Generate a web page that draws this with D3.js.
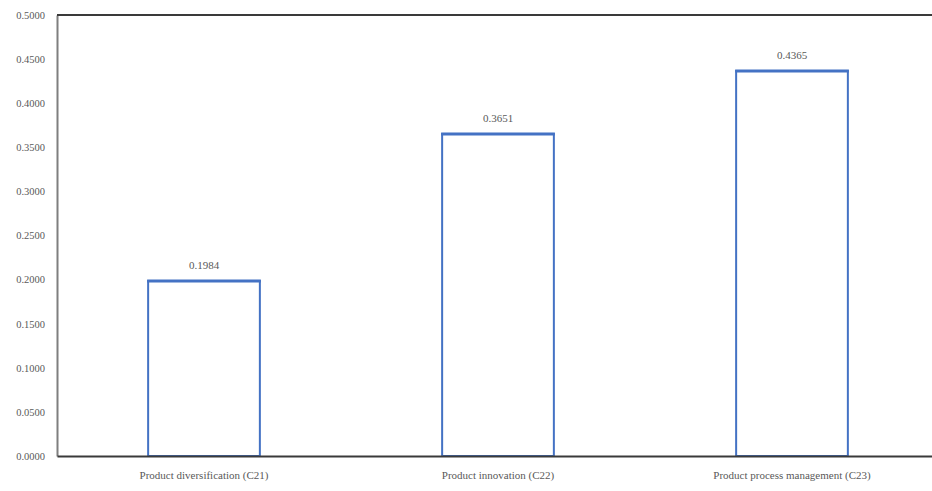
<!DOCTYPE html>
<html>
<head>
<meta charset="utf-8">
<script src="https://cdn.jsdelivr.net/npm/d3@7"></script>
<style>
  html, body { margin: 0; padding: 0; background: #fff; }
  svg { display: block; }
  text { font-family: "Liberation Serif", "Times New Roman", serif; fill: #595959; }
</style>
</head>
<body>
<svg id="chart" width="932" height="491"></svg>
<script>
// Weights of the product sub-criteria
const categories = ["Product diversification (C21)", "Product innovation (C22)", "Product process management (C23)"];
const values = [0.1984, 0.3651, 0.4365];
const yTicks = [0, 0.05, 0.10, 0.15, 0.20, 0.25, 0.30, 0.35, 0.40, 0.45, 0.50];

const svg = d3.select("#chart");
const margin = { left: 57, top: 15, bottom: 35 };
const plotW = 882;
const plotH = 491 - margin.top - margin.bottom;

const x = d3.scaleBand().domain(categories).range([0, plotW]).paddingInner(0.62).paddingOuter(0.31);
const y = d3.scaleLinear().domain([0, 0.5]).range([plotH, 0]);

const g = svg.append("g").attr("transform", `translate(${margin.left},${margin.top})`);

// bars: white fill with blue outline
g.selectAll("rect.bar").data(values).join("rect")
  .attr("class", "bar")
  .attr("x", (d, i) => x(categories[i]))
  .attr("y", d => y(d))
  .attr("width", x.bandwidth())
  .attr("height", d => plotH - y(d))
  .attr("fill", "#fff")
  .attr("stroke", "#4472C4")
  .attr("stroke-width", 2);

// thicker top edge of each bar
g.selectAll("line.cap").data(values).join("line")
  .attr("class", "cap")
  .attr("x1", (d, i) => x(categories[i]) - 1)
  .attr("x2", (d, i) => x(categories[i]) + x.bandwidth() + 1)
  .attr("y1", d => y(d))
  .attr("y2", d => y(d))
  .attr("stroke", "#4472C4")
  .attr("stroke-width", 3);

// value labels
g.selectAll("text.val").data(values).join("text")
  .attr("class", "val")
  .attr("x", (d, i) => x(categories[i]) + x.bandwidth() / 2)
  .attr("y", d => y(d) - 12)
  .attr("text-anchor", "middle")
  .attr("font-size", 11)
  .text(d => d.toFixed(4));

// y axis
const yAxis = g.append("g")
  .call(d3.axisLeft(y).tickValues(yTicks).tickFormat(d3.format(".4f")).tickSize(0).tickPadding(12));
yAxis.select(".domain").attr("stroke", "#7f7f7f").attr("stroke-width", 2);
yAxis.selectAll("text").attr("font-size", 10.5).attr("fill", "#7f7f7f")
  .style("font-family", "'Liberation Serif', serif");

// x axis
const xAxis = g.append("g").attr("transform", `translate(0,${plotH})`)
  .call(d3.axisBottom(x).tickSize(0).tickPadding(15));
xAxis.select(".domain").attr("stroke", "#3a3a3a").attr("stroke-width", 2);
xAxis.selectAll("text").attr("font-size", 11).attr("fill", "#595959")
  .style("font-family", "'Liberation Serif', serif");

// top frame line
g.append("line")
  .attr("x1", 0).attr("x2", plotW)
  .attr("y1", 0).attr("y2", 0)
  .attr("stroke", "#3a3a3a").attr("stroke-width", 2);
</script>
</body>
</html>
